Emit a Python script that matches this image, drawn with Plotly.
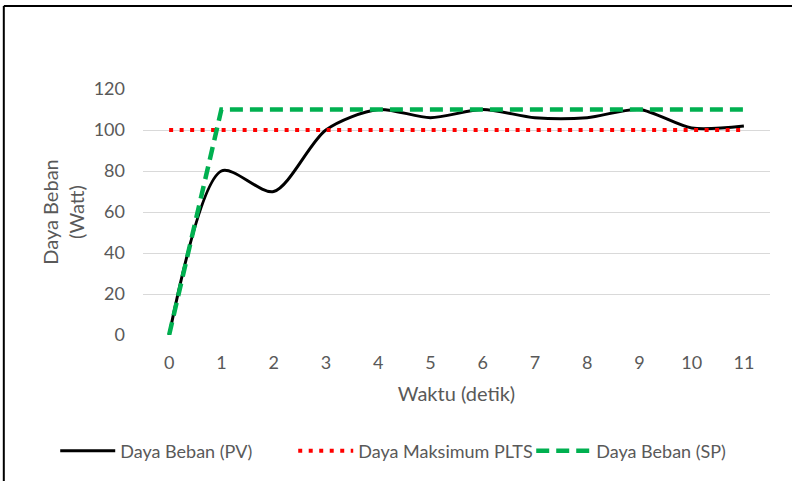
import plotly.graph_objects as go

waktu = [0, 1, 2, 3, 4, 5, 6, 7, 8, 9, 10, 11]
daya_pv = [0, 80, 70, 100, 110, 106, 110, 106, 106, 110, 101, 102]
daya_max_plts = [100, 100, 100, 100, 100, 100, 100, 100, 100, 100, 100, 100]
daya_sp = [0, 110, 110, 110, 110, 110, 110, 110, 110, 110, 110, 110]
y_ticks = [0, 20, 40, 60, 80, 100, 120]

FONT = "Lato, Open Sans, sans-serif"
GREY = "#595959"

fig = go.Figure()
fig.add_trace(go.Scatter(x=waktu, y=daya_pv, mode="lines", name="Daya Beban (PV)",
                         line=dict(color="black", width=3, shape="spline", smoothing=0.8)))
fig.add_trace(go.Scatter(x=waktu, y=daya_max_plts, mode="lines", name="Daya Maksimum PLTS",
                         line=dict(color="#ff0000", width=4, dash="4px,6.5px")))
fig.add_trace(go.Scatter(x=waktu, y=daya_sp, mode="lines", name="Daya Beban (SP)",
                         line=dict(color="#00b050", width=4.5, dash="13px,7px")))

# outer frame lines (top and left)
fig.add_shape(type="line", xref="paper", yref="paper", x0=-0.222, x1=1.04, y0=1.337, y1=1.337,
              line=dict(color="black", width=2))
fig.add_shape(type="line", xref="paper", yref="paper", x0=-0.222, x1=-0.222, y0=1.337, y1=-1.0,
              line=dict(color="black", width=2))

fig.update_layout(
    width=792, height=481,
    margin=dict(l=143, r=22, t=89, b=146),
    paper_bgcolor="white", plot_bgcolor="white",
    font=dict(family=FONT, size=18, color=GREY),
    showlegend=True,
    legend=dict(orientation="h", x=-0.140, xanchor="left", y=-0.4715, yanchor="middle",
                font=dict(family=FONT, size=18, color=GREY),
                itemwidth=55, entrywidth=168, tracegroupgap=0),
    xaxis=dict(range=[-0.5, 11.5], tickmode="array", tickvals=waktu,
               ticktext=[str(v) for v in waktu], showgrid=False, zeroline=False,
               showline=False, ticks="", tickfont=dict(size=18, color=GREY), ticklabelstandoff=15,
               title=dict(text="Waktu (detik)", font=dict(size=20, color=GREY), standoff=14)),
    yaxis=dict(range=[0, 120], tickmode="array", tickvals=y_ticks,
               showgrid=True, gridcolor="#d9d9d9", gridwidth=1, zeroline=False,
               showline=False, ticks="", tickfont=dict(size=18, color=GREY), ticklabelstandoff=17,
               title=dict(text="Daya Beban<br>(Watt)", font=dict(size=20, color=GREY), standoff=3)),
)

fig.write_html("out.html")
